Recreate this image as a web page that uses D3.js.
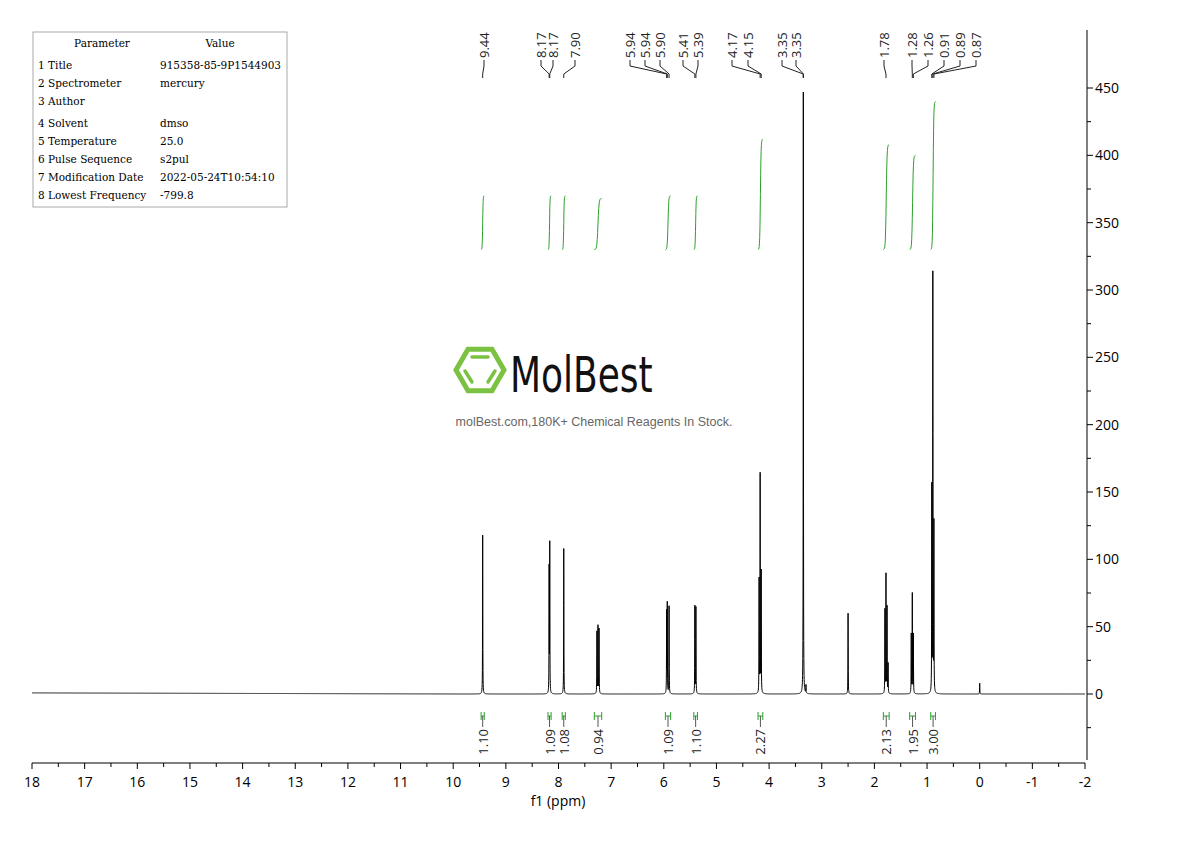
<!DOCTYPE html><html><head><meta charset="utf-8"><script src="https://cdn.jsdelivr.net/npm/d3@7"></script>
<style>body{margin:0;background:#fff}</style></head><body><svg id="c" width="1190" height="841"></svg>
<script>
// peaks: [ppm, height]
const peakPpm = [9.44,8.178,8.166,7.90,7.27,7.25,7.23,5.946,5.934,5.90,5.41,5.39,4.19,4.17,4.15,3.35,3.30,2.50,1.80,1.78,1.76,1.74,1.30,1.28,1.26,0.91,0.89,0.87,0.00];
const peakHeight = [118,92,110,108,46,50,48,60,66,65,65,64,84,162,90,447,6,60,62,88,64,22,44,74,44,152,310,125,8];
const peakLabels = ["9.44","8.17","8.17","7.90","5.94","5.94","5.90","5.41","5.39","4.17","4.15","3.35","3.35","1.78","1.28","1.26","0.91","0.89","0.87"];
const peakLabelPpm = [9.44,8.178,8.166,7.90,5.946,5.934,5.90,5.41,5.39,4.17,4.15,3.352,3.348,1.78,1.28,1.26,0.91,0.89,0.87];
const integFrom = [9.47,8.20,7.93,7.32,5.97,5.43,4.21,1.83,1.33,0.93];
const integTo = [9.41,8.14,7.87,7.18,5.87,5.36,4.12,1.72,1.22,0.84];
const integValue = ["1.10","1.09","1.08","0.94","1.09","1.10","2.27","2.13","1.95","3.00"];
const integTop = [370,370,370,368,370,370,412,408,400,440];
const yTicks = [0,50,100,150,200,250,300,350,400,450];
const xTicks = d3.range(18,-2.5,-1);
const tableRows = [["Parameter","Value"],["1 Title","915358-85-9P1544903"],["2 Spectrometer","mercury"],["3 Author",""],["4 Solvent","dmso"],["5 Temperature","25.0"],["6 Pulse Sequence","s2pul"],["7 Modification Date","2022-05-24T10:54:10"],["8 Lowest Frequency","-799.8"]];

const svg = d3.select("#c");
const x = d3.scaleLinear().domain([18,-2]).range([32,1085]);
const y = d3.scaleLinear().domain([0,450]).range([694,88]);
const F = "'Open Sans',Arial,sans-serif";

// watermark
const wm = svg.append("g");
const hx=480,hy=370,hr=24;
const hex = d3.range(6).map(i=>[hx+hr*Math.cos(i*Math.PI/3),hy+hr*Math.sin(i*Math.PI/3)]);
wm.append("polygon").attr("points",hex.join(" ")).attr("fill","none").attr("stroke","#7cc242").attr("stroke-width",5);
wm.append("line").attr("x1",hx-8).attr("x2",hx+8).attr("y1",hy-13).attr("y2",hy-13).attr("stroke","#7cc242").attr("stroke-width",3.5).attr("stroke-linecap","round");
wm.append("line").attr("x1",hx-15).attr("y1",hy+1).attr("x2",hx-8).attr("y2",hy+12).attr("stroke","#7cc242").attr("stroke-width",3.5).attr("stroke-linecap","round");
wm.append("line").attr("x1",hx+15).attr("y1",hy+1).attr("x2",hx+8).attr("y2",hy+12).attr("stroke","#7cc242").attr("stroke-width",3.5).attr("stroke-linecap","round");
wm.append("text").attr("x",510).attr("y",392).attr("font-family","'DejaVu Sans Condensed',"+F).attr("font-size",50).attr("transform","translate(510,392) scale(0.8,1) translate(-510,-392)").attr("fill","#111").text("MolBest");
wm.append("text").attr("x",594).attr("y",426).attr("text-anchor","middle").attr("font-family","'Liberation Sans',Arial").attr("font-size",12.5).attr("fill","#666").text("molBest.com,180K+ Chemical Reagents In Stock.");

// spectrum
const grid = d3.range(18,-2.0001,-0.002);
const w = 0.0025;
const pts = grid.map(p=>{let s=0;peakPpm.forEach((c,i)=>{const d=(p-c)/w;s+=peakHeight[i]/(1+d*d);});return [p,s+(p>9.8?0.8*(p-9.8)/8:0)];});
svg.append("path").datum(pts).attr("fill","none").attr("stroke","#000").attr("stroke-width",1)
 .attr("d",d3.line().x(d=>x(d[0])).y(d=>y(d[1])));

// integrals
integFrom.forEach((f,i)=>{
  const t=integTo[i];
  const steps=d3.range(0,1.0001,0.05).map(u=>[f+(t-f)*u,330+(integTop[i]-330)*(1/(1+Math.exp(-(u-0.5)*14)))]);
  svg.append("path").datum(steps).attr("fill","none").attr("stroke","#2ca02c").attr("stroke-width",1)
   .attr("d",d3.line().x(d=>x(d[0])).y(d=>y(d[1])));
  const xm=(x(f)+x(t))/2;
  svg.append("path").attr("d",`M${x(f)},712V720M${x(f)},716H${x(t)}M${x(t)},712V720`).attr("stroke","#2ca02c").attr("fill","none");
  svg.append("line").attr("x1",xm).attr("x2",xm).attr("y1",716).attr("y2",727).attr("stroke","#555");
  svg.append("text").attr("transform",`translate(${xm+5},729) rotate(-90)`).attr("text-anchor","end").attr("font-family",F).attr("font-size",13).attr("fill","#222").text(integValue[i]);
});

// peak labels
const labX=[484,541,553,575,630,645,660,683,698,732,748,782,796,884,912,928,944,960,976];
peakLabels.forEach((l,i)=>{
  svg.append("text").attr("transform",`translate(${labX[i]+5},58) rotate(-90)`).attr("font-family",F).attr("font-size",13).attr("fill","#222").text(l);
  const px=x(peakLabelPpm[i]);
  svg.append("path").attr("d",`M${labX[i]},60V66L${px},74V78`).attr("stroke","#222").attr("fill","none");
});

// x axis
const xa = svg.append("g").attr("transform","translate(0,763)");
xa.append("line").attr("x1",32).attr("x2",1085).attr("stroke","#000");
d3.range(18,-2.01,-0.5).forEach(v=>xa.append("line").attr("x1",x(v)).attr("x2",x(v)).attr("y1",0).attr("y2",Number.isInteger(v)?6:4).attr("stroke","#000"));
xTicks.forEach(v=>xa.append("text").attr("x",x(v)).attr("y",24).attr("text-anchor","middle").attr("font-family",F).attr("font-size",14).text(v));
svg.append("text").attr("x",558).attr("y",806).attr("text-anchor","middle").attr("font-family",F).attr("font-size",14).text("f1 (ppm)");

// y axis
const ya=svg.append("g");
ya.append("line").attr("x1",1087).attr("x2",1087).attr("y1",30).attr("y2",760).attr("stroke","#000");
d3.range(-50,475,25).forEach(v=>{if(y(v)>30&&y(v)<760)ya.append("line").attr("x1",1087).attr("x2",v%50===0?1093:1091).attr("y1",y(v)).attr("y2",y(v)).attr("stroke","#000");});
yTicks.forEach(v=>ya.append("text").attr("x",1095).attr("y",y(v)+5).attr("font-family",F).attr("font-size",14).text(v));

// table
const tb=svg.append("g");
tb.append("rect").attr("x",33).attr("y",32).attr("width",254).attr("height",175).attr("fill","#fff").attr("stroke","#aaa");
const rowY=[43,65,83,101,123,141,159,177,195];
tableRows.forEach((r,i)=>{
  const TF="'DejaVu Serif','Liberation Serif',serif";
  if(i===0){tb.append("text").attr("x",102).attr("y",rowY[i]+4).attr("text-anchor","middle").attr("font-family",TF).attr("font-size",10.5).text(r[0]);
    tb.append("text").attr("x",220).attr("y",rowY[i]+4).attr("text-anchor","middle").attr("font-family",TF).attr("font-size",10.5).text(r[1]);}
  else{tb.append("text").attr("x",38).attr("y",rowY[i]+4).attr("font-family",TF).attr("font-size",10.5).text(r[0]);
    tb.append("text").attr("x",160).attr("y",rowY[i]+4).attr("font-family",TF).attr("font-size",10.5).text(r[1]);}
});
</script></body></html>
